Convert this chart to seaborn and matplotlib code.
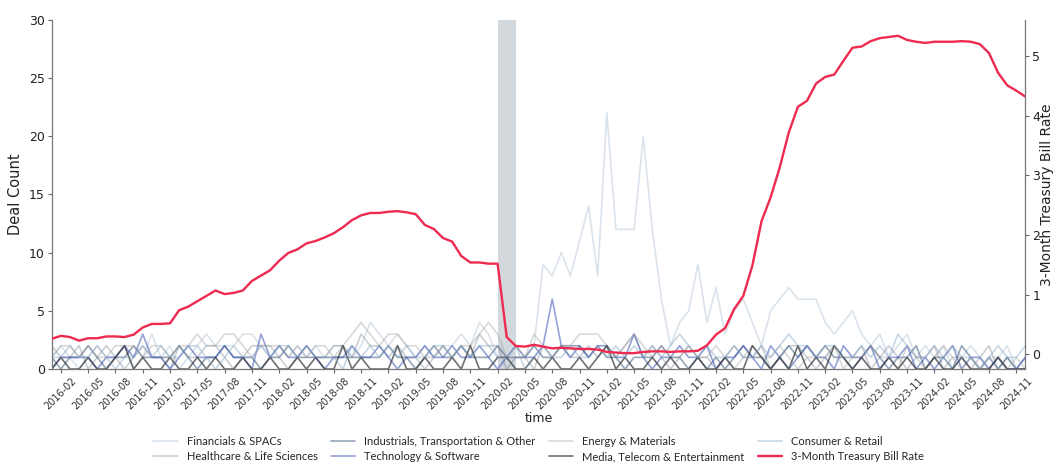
import numpy as np
import pandas as pd
import matplotlib
matplotlib.use("Agg")
import matplotlib.pyplot as plt
from matplotlib.ticker import FixedLocator
import seaborn as sns

# Monthly observation periods
months = pd.date_range("2016-01-01", periods=108, freq="MS").strftime("%Y-%m").tolist()

# Monthly deal counts by sector (one row per year)
financials = [
    1, 2, 1, 0, 1, 2, 1, 1, 2, 0, 1, 3,
    1, 2, 0, 1, 2, 3, 2, 2, 2, 3, 3, 2,
    1, 2, 1, 2, 1, 2, 1, 2, 2, 1, 2, 4,
    3, 2, 3, 2, 1, 2, 1, 2, 2, 3, 2, 4,
    3, 1, 0, 1, 1, 2, 9, 8, 10, 8, 11, 14,
    8, 22, 12, 12, 12, 20, 12, 6, 2, 4, 5, 9,
    4, 7, 3, 5, 6, 4, 2, 5, 6, 7, 6, 6,
    6, 4, 3, 4, 5, 3, 2, 3, 1, 2, 3, 1,
    2, 1, 2, 0, 1, 2, 1, 0, 1, 2, 0, 1,
]
healthcare = [
    2, 1, 1, 2, 0, 1, 2, 1, 0, 1, 2, 1,
    1, 0, 2, 1, 1, 2, 2, 1, 0, 1, 2, 2,
    2, 1, 0, 1, 2, 1, 1, 2, 2, 1, 3, 2,
    2, 1, 2, 1, 1, 0, 1, 2, 1, 2, 1, 3,
    2, 2, 0, 1, 1, 0, 2, 1, 2, 1, 1, 2,
    1, 2, 1, 2, 3, 1, 2, 1, 0, 1, 2, 1,
    1, 0, 1, 2, 1, 1, 2, 0, 1, 2, 2, 1,
    0, 1, 2, 1, 1, 2, 0, 1, 2, 1, 0, 1,
    1, 2, 0, 1, 1, 0, 1, 2, 0, 1, 0, 1,
]
industrials = [
    1, 0, 1, 1, 2, 1, 0, 1, 1, 2, 1, 1,
    1, 1, 2, 1, 0, 1, 1, 2, 1, 1, 1, 0,
    1, 1, 2, 1, 1, 1, 1, 1, 1, 1, 1, 1,
    1, 2, 1, 1, 0, 1, 2, 1, 1, 2, 1, 1,
    1, 2, 1, 1, 1, 2, 1, 1, 2, 2, 2, 1,
    2, 1, 1, 0, 1, 1, 1, 2, 1, 1, 0, 1,
    0, 1, 0, 1, 2, 1, 1, 0, 1, 2, 1, 2,
    1, 2, 1, 1, 0, 1, 2, 1, 0, 1, 1, 2,
    0, 1, 1, 0, 2, 1, 0, 1, 0, 1, 0, 0,
]
technology = [
    0, 1, 1, 1, 1, 0, 1, 1, 2, 1, 3, 1,
    1, 0, 1, 2, 1, 1, 1, 2, 1, 1, 0, 3,
    1, 2, 1, 1, 2, 1, 0, 1, 1, 2, 1, 1,
    2, 1, 0, 1, 1, 2, 1, 1, 2, 1, 1, 2,
    1, 0, 1, 2, 1, 1, 2, 6, 2, 1, 2, 1,
    2, 2, 1, 1, 3, 1, 0, 1, 1, 2, 1, 1,
    2, 0, 1, 1, 2, 1, 0, 2, 1, 0, 1, 2,
    1, 1, 0, 2, 1, 1, 2, 0, 1, 1, 2, 0,
    1, 0, 1, 2, 0, 1, 1, 0, 1, 0, 0, 1,
]
energy = [
    1, 2, 2, 1, 2, 1, 1, 2, 2, 2, 1, 2,
    2, 1, 2, 2, 3, 2, 2, 3, 3, 2, 1, 2,
    2, 2, 1, 2, 1, 2, 2, 1, 2, 3, 4, 3,
    2, 3, 3, 2, 2, 1, 1, 2, 1, 2, 2, 3,
    4, 3, 1, 2, 1, 3, 2, 1, 2, 2, 3, 3,
    3, 2, 1, 2, 3, 2, 1, 2, 1, 1, 2, 1,
    1, 2, 1, 0, 1, 2, 1, 1, 2, 1, 0, 1,
    1, 1, 2, 0, 1, 1, 2, 1, 1, 0, 2, 1,
    0, 1, 2, 1, 0, 1, 0, 1, 1, 0, 1, 0,
]
media = [
    0, 1, 0, 0, 1, 0, 0, 1, 2, 0, 1, 0,
    0, 1, 0, 0, 1, 0, 1, 0, 0, 1, 0, 0,
    1, 0, 0, 1, 0, 1, 0, 0, 2, 0, 1, 0,
    0, 0, 2, 0, 0, 1, 0, 0, 1, 0, 2, 0,
    0, 1, 1, 0, 0, 1, 0, 1, 0, 0, 1, 0,
    1, 2, 0, 1, 0, 0, 1, 0, 1, 0, 0, 1,
    0, 0, 1, 0, 0, 2, 1, 0, 1, 0, 2, 0,
    1, 0, 2, 1, 0, 1, 0, 0, 1, 0, 1, 0,
    0, 1, 0, 0, 1, 0, 0, 0, 1, 0, 0, 0,
]
consumer = [
    1, 1, 2, 1, 1, 2, 1, 0, 1, 1, 2, 1,
    2, 1, 1, 2, 2, 1, 0, 1, 2, 1, 1, 2,
    1, 2, 2, 1, 2, 1, 1, 1, 0, 2, 1, 2,
    1, 2, 1, 2, 1, 1, 2, 2, 1, 2, 1, 2,
    2, 1, 1, 2, 0, 1, 2, 1, 1, 2, 1, 1,
    2, 1, 2, 1, 2, 1, 2, 1, 2, 3, 2, 1,
    2, 1, 1, 2, 1, 1, 2, 1, 2, 3, 2, 2,
    1, 2, 2, 1, 1, 2, 1, 2, 1, 3, 2, 1,
    1, 2, 1, 2, 1, 1, 0, 1, 2, 1, 1, 2,
]

# 3-month Treasury bill rate (%)
tbill_rate = [
    0.26, 0.31, 0.29, 0.23, 0.27, 0.27, 0.30, 0.30, 0.29, 0.33, 0.45, 0.51,
    0.51, 0.52, 0.74, 0.80, 0.89, 0.98, 1.07, 1.01, 1.03, 1.07, 1.23, 1.32,
    1.41, 1.57, 1.70, 1.76, 1.86, 1.90, 1.96, 2.03, 2.13, 2.25, 2.33, 2.37,
    2.37, 2.39, 2.40, 2.38, 2.35, 2.17, 2.10, 1.95, 1.89, 1.65, 1.54, 1.54,
    1.52, 1.52, 0.29, 0.14, 0.13, 0.16, 0.13, 0.10, 0.11, 0.10, 0.09, 0.09,
    0.08, 0.04, 0.03, 0.02, 0.02, 0.04, 0.05, 0.05, 0.04, 0.05, 0.05, 0.06,
    0.15, 0.33, 0.44, 0.76, 0.98, 1.49, 2.23, 2.63, 3.13, 3.72, 4.15, 4.25,
    4.54, 4.65, 4.69, 4.92, 5.14, 5.16, 5.25, 5.30, 5.32, 5.34, 5.27, 5.24,
    5.22, 5.24, 5.24, 5.24, 5.25, 5.24, 5.20, 5.05, 4.72, 4.51, 4.42, 4.32,
]

sectors = {
    "Financials & SPACs": financials,
    "Healthcare & Life Sciences": healthcare,
    "Industrials, Transportation & Other": industrials,
    "Technology & Software": technology,
    "Energy & Materials": energy,
    "Media, Telecom & Entertainment": media,
    "Consumer & Retail": consumer,
}
sector_style = {
    "Financials & SPACs": ("#a9bdd0", 0.42),
    "Healthcare & Life Sciences": ("#8c96a0", 0.45),
    "Industrials, Transportation & Other": ("#4f6b8c", 0.6),
    "Technology & Software": ("#3d55b5", 0.55),
    "Energy & Materials": ("#a0a0a0", 0.4),
    "Media, Telecom & Entertainment": ("#303338", 0.7),
    "Consumer & Retail": ("#86a8c6", 0.45),
}
rate_color = "#ee2a50"
recession = ("2020-02", "2020-04")

sns.set_style("ticks")
plt.rcParams["font.family"] = ["DejaVu Sans"]

long = pd.DataFrame(
    [(i, m, name, v) for name, vals in sectors.items() for i, (m, v) in enumerate(zip(months, vals))],
    columns=["pos", "time", "sector", "count"],
)
rates = pd.DataFrame({"pos": np.arange(len(months)), "rate": tbill_rate})

fig = plt.figure(figsize=(10.56, 4.63), dpi=100)
ax = fig.add_axes([0.049, 0.203, 0.922, 0.754])

ax.axvspan(months.index(recession[0]), months.index(recession[1]),
           color="slategray", alpha=0.3, lw=0, zorder=0)

for name in sectors:
    c, a = sector_style[name]
    sns.lineplot(data=long[long["sector"] == name], x="pos", y="count",
                 color=c, alpha=a, lw=1.2, label=name, ax=ax, legend=False)

ax2 = ax.twinx()
sns.lineplot(data=rates, x="pos", y="rate", color=rate_color, lw=1.7,
             label="3-Month Treasury Bill Rate", ax=ax2, legend=False)

# x axis: quarterly labels, faint vertical guides every three quarters
ax.set_xlim(0, len(months) - 1)
tick_pos = list(range(1, len(months), 3))
ax.set_xticks(tick_pos)
ax.set_xticklabels([months[p] for p in tick_pos], rotation=45, fontsize=7, color="#333333")
ax.xaxis.set_minor_locator(FixedLocator(list(range(1, len(months), 9))))
ax.grid(axis="x", which="minor", color="#eceef1", lw=1.0)
ax.tick_params(axis="x", which="minor", length=0)
ax.tick_params(axis="x", which="major", length=3, width=0.8, color="#666666", pad=2)
ax.set_xlabel("time", fontsize=9, color="#222222", labelpad=0)

ax.set_ylim(0, 30)
ax.set_yticks(range(0, 31, 5))
ax.tick_params(axis="y", labelsize=9, length=3, width=0.8, color="#666666", labelcolor="#222222", pad=2)
ax.set_ylabel("Deal Count", fontsize=10.5, color="#222222")

ax2.set_yticks(range(0, 6))
ax2.tick_params(axis="y", labelsize=9, length=3, width=0.8, color="#666666", labelcolor="#222222", pad=2)
ax2.set_ylabel("3-Month Treasury Bill Rate", fontsize=10, color="#222222", labelpad=0)

for a_ in (ax, ax2):
    a_.spines["top"].set_visible(False)
    for s in ("left", "bottom", "right"):
        a_.spines[s].set_color("#777777")
        a_.spines[s].set_linewidth(0.9)
ax.spines["right"].set_visible(False)
ax2.spines["left"].set_visible(False)
ax2.spines["bottom"].set_visible(False)

h1, l1 = ax.get_legend_handles_labels()
h2, l2 = ax2.get_legend_handles_labels()
fig.legend(h1 + h2, l1 + l2, loc="lower center", bbox_to_anchor=(0.51, -0.02),
           ncol=4, frameon=False, prop={"family": "Lato", "size": 8},
           handlelength=2.2, columnspacing=1.2, labelspacing=0.4)

fig.savefig("out.png", dpi=100)
